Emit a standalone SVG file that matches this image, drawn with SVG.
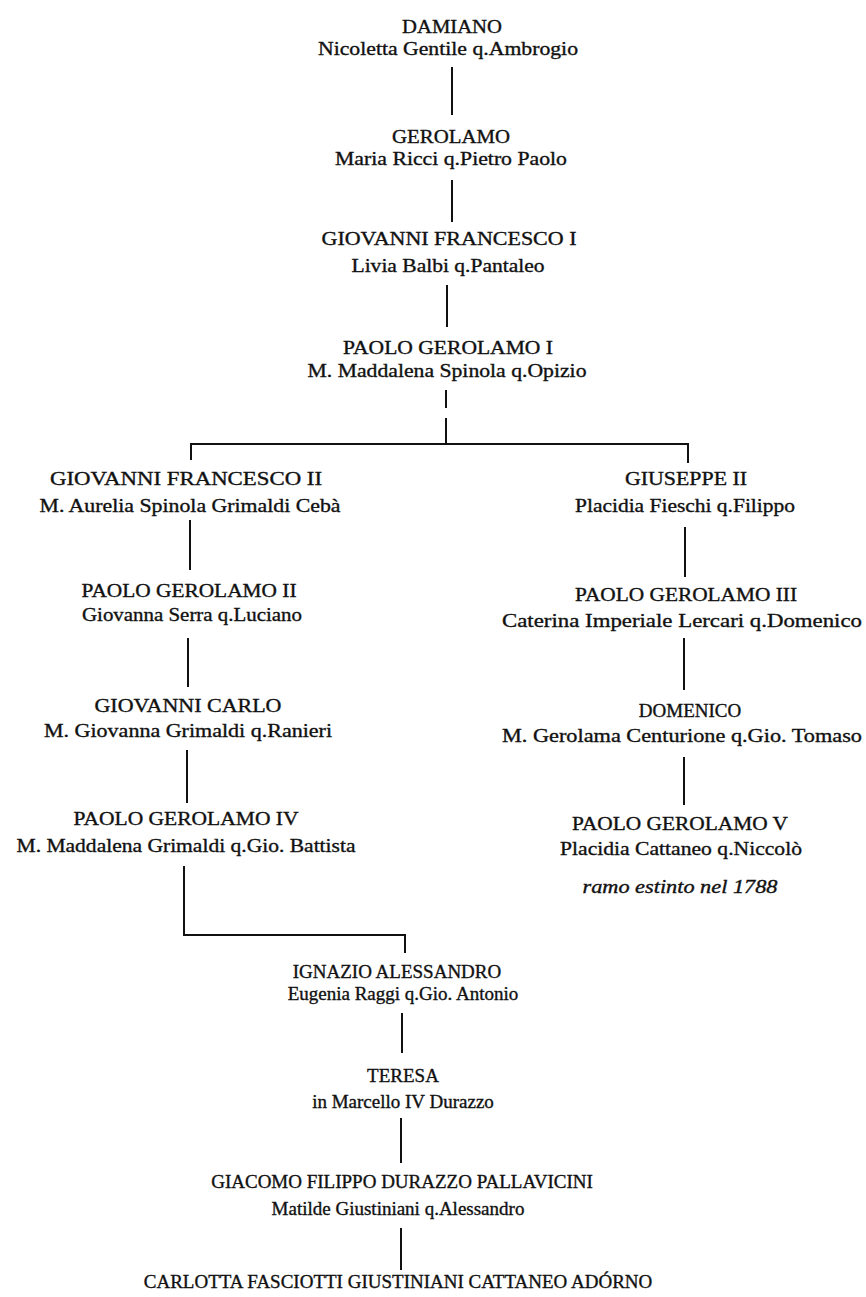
<svg xmlns="http://www.w3.org/2000/svg" width="866" height="1297" viewBox="0 0 866 1297">
<style>
text{font-family:"Liberation Serif","Times New Roman",serif;font-size:19px;fill:#111;stroke:#111;stroke-width:0.35;text-anchor:middle}
.it{font-style:italic;font-size:18px}
.c{stroke:#111;stroke-width:2;fill:none}
</style>
<rect width="866" height="1297" fill="#fff"/>
<g id="connectors">
<path class="c" d="M452 67V115"/>
<path class="c" d="M452 180V222"/>
<path class="c" d="M447 285V327"/>
<path class="c" d="M446 390V408M446 418V444"/>
<path class="c" d="M191 460V444H688V463"/>
<path class="c" d="M190 520V570"/>
<path class="c" d="M188 638V687"/>
<path class="c" d="M187 750V803"/>
<path class="c" d="M184 866V935H405V953"/>
<path class="c" d="M402 1013V1053"/>
<path class="c" d="M401 1118V1163"/>
<path class="c" d="M401 1228V1270"/>
<path class="c" d="M685 527V577"/>
<path class="c" d="M684 638V690"/>
<path class="c" d="M684 757V805"/>
</g>
<g id="damiano"><text x="452" y="33" textLength="100" lengthAdjust="spacingAndGlyphs">DAMIANO</text><text x="448" y="55" textLength="260" lengthAdjust="spacingAndGlyphs">Nicoletta Gentile q.Ambrogio</text></g>
<g id="gerolamo"><text x="451" y="143" textLength="118" lengthAdjust="spacingAndGlyphs">GEROLAMO</text><text x="451" y="165" textLength="232" lengthAdjust="spacingAndGlyphs">Maria Ricci q.Pietro Paolo</text></g>
<g id="gf1"><text x="449" y="245" textLength="255" lengthAdjust="spacingAndGlyphs">GIOVANNI FRANCESCO I</text><text x="448" y="272" textLength="193" lengthAdjust="spacingAndGlyphs">Livia Balbi q.Pantaleo</text></g>
<g id="pg1"><text x="448" y="354" textLength="210" lengthAdjust="spacingAndGlyphs">PAOLO GEROLAMO I</text><text x="447" y="377" textLength="279" lengthAdjust="spacingAndGlyphs">M. Maddalena Spinola q.Opizio</text></g>
<g id="gf2"><text x="186" y="485" textLength="272" lengthAdjust="spacingAndGlyphs">GIOVANNI FRANCESCO II</text><text x="190" y="512" textLength="301" lengthAdjust="spacingAndGlyphs">M. Aurelia Spinola Grimaldi Cebà</text></g>
<g id="pg2"><text x="189" y="597" textLength="215" lengthAdjust="spacingAndGlyphs">PAOLO GEROLAMO II</text><text x="192" y="621" textLength="220" lengthAdjust="spacingAndGlyphs">Giovanna Serra q.Luciano</text></g>
<g id="gc"><text x="188" y="712" textLength="187" lengthAdjust="spacingAndGlyphs">GIOVANNI CARLO</text><text x="188" y="737" textLength="288" lengthAdjust="spacingAndGlyphs">M. Giovanna Grimaldi q.Ranieri</text></g>
<g id="pg4"><text x="186" y="825" textLength="225" lengthAdjust="spacingAndGlyphs">PAOLO GEROLAMO IV</text><text x="186" y="852" textLength="339" lengthAdjust="spacingAndGlyphs">M. Maddalena Grimaldi q.Gio. Battista</text></g>
<g id="ia"><text x="397" y="978">IGNAZIO ALESSANDRO</text><text x="403" y="1000">Eugenia Raggi q.Gio. Antonio</text></g>
<g id="teresa"><text x="403" y="1082">TERESA</text><text x="403" y="1108">in Marcello IV Durazzo</text></g>
<g id="gfdp"><text x="402" y="1188">GIACOMO FILIPPO DURAZZO PALLAVICINI</text><text x="398" y="1215">Matilde Giustiniani q.Alessandro</text></g>
<g id="carlotta"><text x="398" y="1288">CARLOTTA FASCIOTTI GIUSTINIANI CATTANEO ADÓRNO</text></g>
<g id="g2"><text x="686" y="485" textLength="122" lengthAdjust="spacingAndGlyphs">GIUSEPPE II</text><text x="685" y="512" textLength="220" lengthAdjust="spacingAndGlyphs">Placidia Fieschi q.Filippo</text></g>
<g id="pg3"><text x="686" y="601" textLength="222" lengthAdjust="spacingAndGlyphs">PAOLO GEROLAMO III</text><text x="682" y="627" textLength="360" lengthAdjust="spacingAndGlyphs">Caterina Imperiale Lercari q.Domenico</text></g>
<g id="domenico"><text x="690" y="717">DOMENICO</text><text x="682" y="742" textLength="360" lengthAdjust="spacingAndGlyphs">M. Gerolama Centurione q.Gio. Tomaso</text></g>
<g id="pg5"><text x="680" y="830" textLength="216" lengthAdjust="spacingAndGlyphs">PAOLO GEROLAMO V</text><text x="681" y="855" textLength="242" lengthAdjust="spacingAndGlyphs">Placidia Cattaneo q.Niccolò</text><text class="it" x="680" y="893" textLength="195" lengthAdjust="spacingAndGlyphs">ramo estinto nel 1788</text></g>
</svg>
